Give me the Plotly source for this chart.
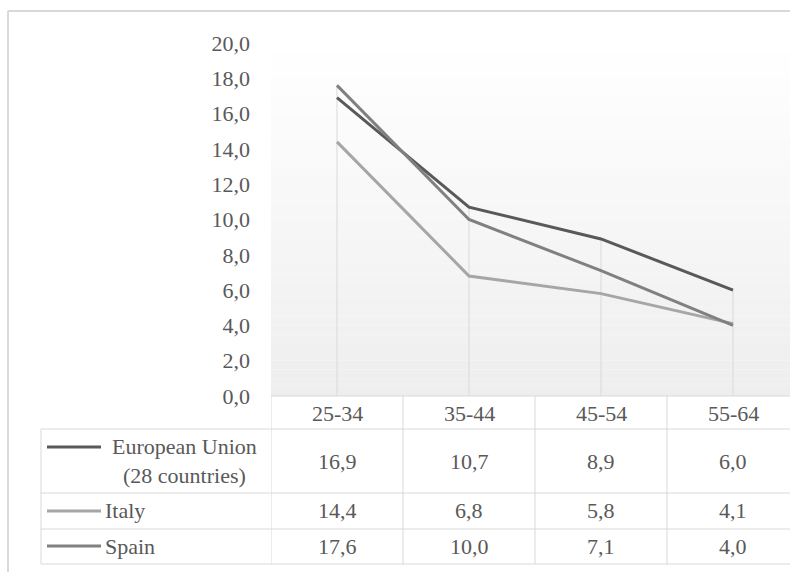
import plotly.graph_objects as go

categories = ["25-34", "35-44", "45-54", "55-64"]
series_names = ["European Union<br>(28 countries)", "Italy", "Spain"]
eu_values = [16.9, 10.7, 8.9, 6.0]
italy_values = [14.4, 6.8, 5.8, 4.1]
spain_values = [17.6, 10.0, 7.1, 4.0]
y_ticks = [0, 2, 4, 6, 8, 10, 12, 14, 16, 18, 20]

series = [eu_values, italy_values, spain_values]
colors = ["#595959", "#a6a6a6", "#808080"]
text_color = "#595959"
grid_color = "#d9d9d9"
FONT = "Tinos, Liberation Serif, DejaVu Serif, serif"

W, H = 790, 572
L, R = 271, 790      # plot area pixel x
T, B = 43, 396       # plot area pixel y


def px(x):
    return (x - L) / (R - L)


def py(y):
    return (B - y) / (B - T)


xs = list(range(len(categories)))
fig = go.Figure()

# gradient background for plot area
nb = 40
shapes = []
for i in range(nb):
    v0 = 20 * i / nb
    v1 = 20 * (i + 1) / nb
    g = int(round(238 + (255 - 238) * (i + 0.5) / nb))
    shapes.append(dict(type="rect", xref="paper", yref="y", x0=0, x1=1, y0=v0, y1=v1,
                       fillcolor=f"rgb({g},{g},{g})", line=dict(width=0), layer="below"))

# drop lines
dx, dy = [], []
for i in xs:
    dx += [i, i, None]
    dy += [0, max(s[i] for s in series), None]
fig.add_trace(go.Scatter(x=dx, y=dy, mode="lines", line=dict(color=grid_color, width=1),
                         hoverinfo="skip", showlegend=False))

for name, vals, col in zip(series_names, series, colors):
    fig.add_trace(go.Scatter(x=xs, y=vals, mode="lines", name=name,
                             line=dict(color=col, width=3), showlegend=False))

# outer chart border
shapes.append(dict(type="line", xref="paper", yref="paper", x0=px(8), x1=px(800), y0=py(11), y1=py(11),
                   line=dict(color=grid_color, width=2)))
shapes.append(dict(type="line", xref="paper", yref="paper", x0=px(8), x1=px(8), y0=py(11), y1=py(580),
                   line=dict(color=grid_color, width=2)))

# data table grid
row_edges = [396, 429, 493, 529, 564]
for k, yv in enumerate(row_edges):
    x0 = L if k == 0 else 41
    shapes.append(dict(type="line", xref="paper", yref="paper", x0=px(x0), x1=px(800),
                       y0=py(yv), y1=py(yv), line=dict(color=grid_color, width=1)))
shapes.append(dict(type="line", xref="paper", yref="paper", x0=px(41), x1=px(41),
                   y0=py(429), y1=py(564), line=dict(color=grid_color, width=1)))
for i in range(len(categories)):
    shapes.append(dict(type="line", xref="x", yref="paper", x0=i - 0.5, x1=i - 0.5,
                       y0=py(396), y1=py(564), line=dict(color=grid_color, width=1)))

annotations = []
fs = 22
# header
for i, c in enumerate(categories):
    annotations.append(dict(x=i, y=py(413), xref="x", yref="paper", text=c, showarrow=False,
                            xanchor="center", yanchor="middle",
                            font=dict(family=FONT, size=fs, color=text_color)))
row_centers = [461, 511, 546]
for r, (name, vals, col) in enumerate(zip(series_names, series, colors)):
    yc = row_centers[r]
    line_y = 447 if r == 0 else yc
    shapes.append(dict(type="line", xref="paper", yref="paper", x0=px(47), x1=px(101),
                       y0=py(line_y), y1=py(line_y), line=dict(color=col, width=3)))
    if r == 0:
        annotations.append(dict(x=px(184), y=py(yc), xref="paper", yref="paper", text=name,
                                showarrow=False, align="center", xanchor="center", yanchor="middle",
                                font=dict(family=FONT, size=fs, color=text_color)))
    else:
        annotations.append(dict(x=px(103), y=py(yc), xref="paper", yref="paper", text=name,
                                showarrow=False, xanchor="left", yanchor="middle",
                                font=dict(family=FONT, size=fs, color=text_color)))
    for i, v in enumerate(vals):
        annotations.append(dict(x=i, y=py(yc), xref="x", yref="paper",
                                text=f"{v:.1f}".replace(".", ","), showarrow=False,
                                xanchor="center", yanchor="middle",
                                font=dict(family=FONT, size=fs, color=text_color)))

fig.update_layout(
    width=W, height=H,
    margin=dict(l=L, r=W - R, t=T, b=H - B, pad=0),
    paper_bgcolor="white", plot_bgcolor="white",
    separators=",.",
    font=dict(family=FONT, color=text_color),
    shapes=shapes, annotations=annotations,
    xaxis=dict(range=[-0.5, -0.5 + (R - L) / 132.0], showticklabels=False, showgrid=False,
               zeroline=False, showline=False, fixedrange=True),
    yaxis=dict(range=[0, 20], tickvals=y_ticks, tickformat=".1f", showgrid=False, zeroline=False,
               showline=False, ticklabelstandoff=20,
               tickfont=dict(family=FONT, size=fs, color=text_color)),
)

fig.write_html("out.html")
